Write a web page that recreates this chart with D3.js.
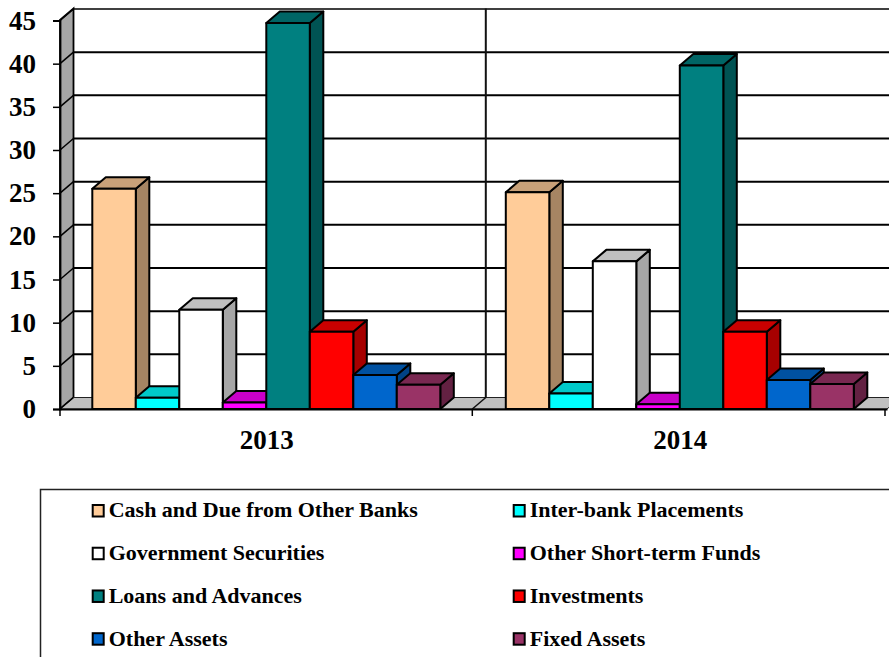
<!DOCTYPE html>
<meta charset="utf-8">
<style>
body { margin: 0; background: #fff; }
svg { display: block; }
text { font-family: "Liberation Serif", serif; font-weight: bold; fill: #000; }
</style>
<body>
<script src="https://d3js.org/d3.v7.min.js"></script>
<script>

var years = ["2013", "2014"];
var seriesNames = ["Cash and Due from Other Banks", "Inter-bank Placements", "Government Securities",
    "Other Short-term Funds", "Loans and Advances", "Investments", "Other Assets", "Fixed Assets"];
var seriesColors = ["#ffcc99", "#00ffff", "#ffffff", "#ff00ff", "#008080", "#ff0000", "#0066cc", "#993366"];
var values2013 = [25.5, 1.3, 11.5, 0.75, 44.7, 8.95, 3.95, 2.8];
var values2014 = [25.1, 1.8, 17.1, 0.55, 39.8, 8.95, 3.35, 2.9];
var yTicks = [0, 5, 10, 15, 20, 25, 30, 35, 40, 45];

var width = 889, height = 657;
var depthX = 13.5, depthY = -11.5;   // 3d offset of the back wall
var wallTop = 8.5;

var svg = d3.select("body").append("svg")
    .attr("width", width)
    .attr("height", height);

var x = d3.scaleBand().domain(years).range([60, 887]);
var barX = d3.scaleBand().domain(d3.range(8)).range([32.3, 32.3 + 348]);
var y = d3.scaleLinear().domain([0, 45]).range([409, 20.5]);

function shade(c, k) {
    var r = d3.rgb(c);
    return d3.rgb(r.r * k, r.g * k, r.b * k).formatHex();
}
function pts(a) { return a.map(function(p) { return p.join(","); }).join(" "); }

//// WALLS
var x0 = x.range()[0], x1 = x.range()[1];
svg.append("polygon")   // left wall
    .attr("points", pts([[x0, y(0)], [x0 + depthX, y(0) + depthY], [x0 + depthX, wallTop], [x0, wallTop - depthY]]))
    .attr("fill", "#a6a6a6").attr("stroke", "#000").attr("stroke-width", 1.8);
svg.append("polygon")   // floor
    .attr("points", pts([[x0, y(0)], [x0 + depthX, y(0) + depthY], [x1 + depthX, y(0) + depthY], [x1, y(0)]]))
    .attr("fill", "#c0c0c0").attr("stroke", "#222").attr("stroke-width", 1);

// gridlines on the back wall and the left wall
yTicks.forEach(function(t) {
    if (t > 0) {
        svg.append("line")
            .attr("x1", x0 + depthX).attr("x2", width)
            .attr("y1", y(t) + depthY).attr("y2", y(t) + depthY)
            .attr("stroke", "#000").attr("stroke-width", t == 45 ? 1.5 : 2);
    }
    svg.append("line")
        .attr("x1", x0).attr("x2", x0 + depthX)
        .attr("y1", y(t)).attr("y2", y(t) + depthY)
        .attr("stroke", "#000").attr("stroke-width", 1.5);
});

// divider between the years
var midX = x("2014") - 1.2;
svg.append("line")
    .attr("x1", midX + depthX).attr("x2", midX + depthX)
    .attr("y1", wallTop).attr("y2", y(0) + depthY)
    .attr("stroke", "#111").attr("stroke-width", 2);
svg.append("line")
    .attr("x1", midX).attr("x2", midX + depthX)
    .attr("y1", y(0)).attr("y2", y(0) + depthY)
    .attr("stroke", "#111").attr("stroke-width", 1.5);

//// BARS
years.forEach(function(yr, g) {
    var vals = g == 0 ? values2013 : values2014;
    vals.forEach(function(v, i) {
        var bx = x(yr) + barX(i), bw = barX.bandwidth();
        var top = y(v), bot = y(0);
        var col = seriesColors[i];
        var bar = svg.append("g").attr("stroke", "#000").attr("stroke-width", 2).attr("stroke-linejoin", "round");
        bar.append("polygon")  // side
            .attr("points", pts([[bx + bw, top], [bx + bw + depthX, top + depthY], [bx + bw + depthX, bot + depthY], [bx + bw, bot]]))
            .attr("fill", i == 2 ? "#a6a6a6" : shade(col, 0.65));
        bar.append("polygon")  // top
            .attr("points", pts([[bx, top], [bx + depthX, top + depthY], [bx + bw + depthX, top + depthY], [bx + bw, top]]))
            .attr("fill", i == 2 ? "#c0c0c0" : shade(col, 0.79));
        bar.append("rect")     // front
            .attr("x", bx).attr("y", top)
            .attr("width", bw).attr("height", bot - top)
            .attr("fill", col);
    });
});

//// AXES
var yAxis = svg.append("g")
    .attr("transform", "translate(" + x0 + ",0)")
    .call(d3.axisLeft(y).tickValues(yTicks).tickSize(7).tickPadding(17));
yAxis.selectAll("text").attr("font-size", 27).style("font-family", '"Liberation Serif", serif').style("font-weight", "bold");
yAxis.selectAll("line").attr("stroke-width", 1.5);
yAxis.select(".domain").attr("stroke-width", 1.8);

var xAxis = svg.append("g")
    .attr("transform", "translate(0," + y(0) + ")")
    .call(d3.axisBottom(x).tickSize(0).tickPadding(21));
xAxis.selectAll("text").attr("font-size", 27).style("font-family", '"Liberation Serif", serif').style("font-weight", "bold");
xAxis.select(".domain").attr("stroke-width", 2);
// tick marks sit on the band edges
[x0, midX, x1 - 2].forEach(function(tx) {
    svg.append("line")
        .attr("x1", tx).attr("x2", tx)
        .attr("y1", y(0)).attr("y2", y(0) + 7)
        .attr("stroke", "#000").attr("stroke-width", 1.5);
});

//// LEGEND
svg.append("rect")
    .attr("x", 40.5).attr("y", 489.5)
    .attr("width", 900).attr("height", 300)
    .attr("fill", "none").attr("stroke", "#222").attr("stroke-width", 1.5);

var legendCol = d3.scaleOrdinal().domain([0, 1]).range([92.7, 513.7]);
var legendRow = d3.scalePoint().domain([0, 1, 2, 3]).range([517.3, 645.5]);

seriesNames.forEach(function(name, i) {
    var lx = legendCol(i % 2), ly = legendRow(Math.floor(i / 2));
    svg.append("rect")
        .attr("x", lx).attr("y", ly - 12.3)
        .attr("width", 11).attr("height", 11.5)
        .attr("fill", seriesColors[i]).attr("stroke", "#000").attr("stroke-width", 2);
    svg.append("text")
        .attr("x", lx + 16).attr("y", ly)
        .attr("font-size", 22)
        .text(name);
});

</script>
</body>
